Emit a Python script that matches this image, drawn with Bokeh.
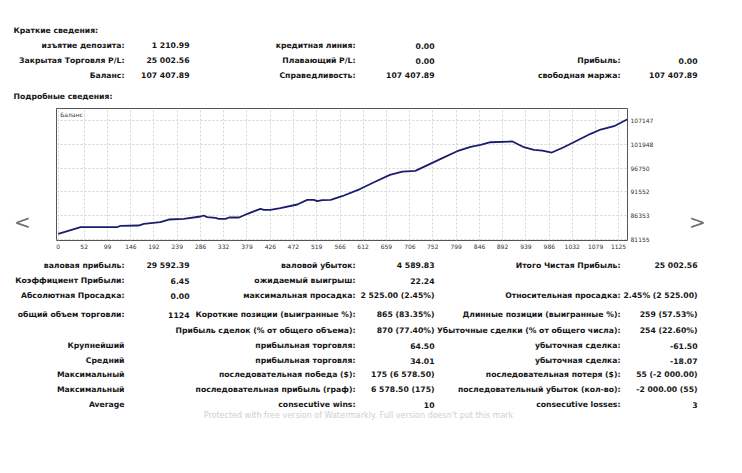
from bokeh.plotting import figure
from bokeh.models import Range1d, FixedTicker, Label, PrintfTickFormatter
from bokeh.layouts import column, row
from bokeh.embed import file_html
from bokeh.resources import INLINE
from bokeh.core.properties import value

# ---------------- data ----------------
trades = [0, 45, 118, 125, 161, 172, 205, 222, 252, 286, 292, 299, 316, 322, 336,
          343, 363, 380, 406, 413, 426, 446, 480, 500, 513, 520, 530, 547, 570,
          607, 634, 666, 691, 717, 734, 768, 801, 828, 848, 868, 912, 935, 955,
          972, 991, 1015, 1042, 1069, 1089, 1116, 1143]
balance = [82405, 83840, 83840, 84150, 84210, 84580, 84930, 85520, 85680, 86180,
           86400, 86030, 85890, 85680, 85680, 85960, 85960, 86770, 87860, 87640,
           87640, 87990, 88800, 89820, 89820, 89520, 89740, 89820, 90610, 92230,
           93670, 95280, 96000, 96150, 97030, 98780, 100440, 101400, 101840,
           102400, 102560, 101310, 100740, 100590, 100150, 101310, 102780,
           104240, 105180, 105900, 107408]
x_ticks = [0, 52, 99, 146, 192, 239, 286, 332, 379, 426, 472, 519, 566, 612, 659,
           706, 752, 799, 846, 892, 939, 986, 1032, 1079, 1125]
y_ticks = [81155, 86353, 91552, 96750, 101948, 107147]
series_name = "Баланс"

summary_title = "Краткие сведения:"
details_title = "Подробные сведения:"
top_c1 = ["изъятие депозита:", "Закрытая Торговля P/L:", "Баланс:"]
top_c2 = ["1 210.99", "25 002.56", "107 407.89"]
top_c3 = ["кредитная линия:", "Плавающий P/L:", "Справедливость:"]
top_c4 = ["0.00", "0.00", "107 407.89"]
top_c5 = ["", "Прибыль:", "свободная маржа:"]
top_c6 = ["", "0.00", "107 407.89"]

bot_c1 = ["валовая прибыль:", "Коэффициент Прибыли:", "Абсолютная Просадка:",
          "общий объем торговли:", "", "Крупнейший", "Средний", "Максимальный",
          "Максимальный", "Average"]
bot_c2 = ["29 592.39", "6.45", "0.00", "1124", "", "", "", "", "", ""]
bot_c3 = ["валовой убыток:", "ожидаемый выигрыш:", "максимальная просадка:",
          "Короткие позиции (выигранные %):", "Прибыль сделок (% от общего объема):",
          "прибыльная торговля:", "прибыльная торговля:", "последовательная победа ($):",
          "последовательная прибыль (граф):", "consecutive wins:"]
bot_c4 = ["4 589.83", "22.24", "2 525.00 (2.45%)", "865 (83.35%)", "870 (77.40%)",
          "64.50", "34.01", "175 (6 578.50)", "6 578.50 (175)", "10"]
bot_c5 = ["Итого Чистая Прибыль:", "", "Относительная просадка:",
          "Длинные позиции (выигранные %):", "Убыточные сделки (% от общего числа):",
          "убыточная сделка:", "убыточная сделка:", "последовательная потеря ($):",
          "последовательный убыток (кол-во):", "consecutive losses:"]
bot_c6 = ["25 002.56", "", "2.45% (2 525.00)", "259 (57.53%)", "254 (22.60%)",
          "-61.50", "-18.07", "55 (-2 000.00)", "-2 000.00 (55)", "3"]
watermark = "Protected with free version of Watermarkly. Full version doesn't put this mark"
nav_left, nav_right = "<", ">"

# ---------------- layout constants ----------------
W = 726
FONT = "DejaVu Sans"
FS = "7.7px"
TXT = "#151515"
COL_RIGHT = [124, 189, 355, 434, 620, 697]  # right edges (page x)
Y_LO, Y_HI = 80937, 109770


def text_fig(w, h, y_range=None):
    f = figure(width=w, height=h, x_range=Range1d(0, w),
               y_range=y_range if y_range is not None else Range1d(h, 0),
               x_axis_location=None, y_axis_location=None,
               output_backend="svg", toolbar_location=None, min_border=0)
    f.grid.visible = False
    f.outline_line_color = None
    return f


def put(f, xs, ys, texts, align="right", style="bold", color=TXT, size=FS):
    xx, yy, tt = [], [], []
    for x, y, t in zip(xs, ys, texts):
        if t:
            xx.append(x); yy.append(y); tt.append(t)
    f.text(x=xx, y=yy, text=tt, text_align=align, text_baseline="middle",
           text_font=value(FONT), text_font_size=size, text_font_style=style,
           text_color=color)


# ---------------- top text (page y 0..105) ----------------
top = text_fig(W, 105)
put(top, [13], [30], [summary_title], align="left")
put(top, [13], [96], [details_title], align="left")
ty = [45, 60, 75]
for col, xr in zip([top_c1, top_c2, top_c3, top_c4, top_c5, top_c6], COL_RIGHT):
    put(top, [xr] * len(col), ty, col)

# ---------------- chart row (page y 105..255) ----------------
LW, CW, RW = 40, 640, 46
p = figure(width=CW, height=150, x_range=Range1d(-3.5, 1143),
           y_range=Range1d(Y_LO, Y_HI), y_axis_location="right",
           output_backend="svg", toolbar_location=None,
           min_border_left=16, min_border_right=53, min_border_top=3,
           min_border_bottom=15)
p.outline_line_color = "#555555"
p.outline_line_width = 1
p.xaxis.ticker = FixedTicker(ticks=x_ticks)
p.yaxis.ticker = FixedTicker(ticks=y_ticks)
p.yaxis.formatter = PrintfTickFormatter(format="%d")
for ax in (p.xaxis, p.yaxis):
    ax.axis_line_color = None
    ax.major_tick_in = 0
    ax.major_tick_out = 0
    ax.minor_tick_line_color = None
    ax.major_label_text_font = FONT
    ax.major_label_text_font_size = "6px"
    ax.major_label_text_color = "#333333"
    ax.major_label_standoff = 3
p.grid.grid_line_color = "#d4d4d4"
p.grid.grid_line_dash = "2 2"
p.line(trades, balance, line_color="#1c1c6e", line_width=1.8)
p.add_layout(Label(x=4, y=109300, text=series_name, text_font=FONT,
                   text_font_size="6px", text_color="#333333",
                   text_baseline="top"))

left_nav = text_fig(LW, 150, Range1d(Y_LO, Y_HI))
left_nav.min_border_top = 3
left_nav.min_border_bottom = 15
put(left_nav, [22], [84870], [nav_left], align="center", style="normal",
    color="#707070", size="20px")
right_nav = text_fig(RW, 150, Range1d(Y_LO, Y_HI))
right_nav.min_border_top = 3
right_nav.min_border_bottom = 15
put(right_nav, [17], [84870], [nav_right], align="center", style="normal",
    color="#707070", size="20px")

# ---------------- bottom text (page y 255..465) ----------------
bot = text_fig(W, 210)
by = [10, 25, 40, 59, 75, 90, 105, 119, 134, 149]
for col, xr in zip([bot_c1, bot_c2, bot_c3, bot_c4, bot_c5, bot_c6], COL_RIGHT):
    put(bot, [xr] * len(col), by, col)
put(bot, [358], [160], [watermark], align="center", style="normal",
    color="#cfcfcf", size="8px")

layout = column(row(top), row(left_nav, p, right_nav, spacing=0), row(bot),
                spacing=0)
open("out.html", "w").write(file_html(layout, INLINE))
